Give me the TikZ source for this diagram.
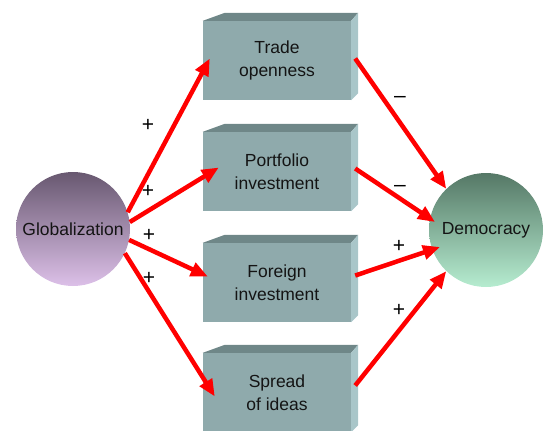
\documentclass[tikz,border=0pt]{standalone}
\usepackage{fontspec}
\setmainfont{Liberation Sans}
\usetikzlibrary{arrows.meta}
\definecolor{boxfront}{HTML}{8FAAAC}
\definecolor{boxtop}{HTML}{6F8788}
\definecolor{boxside}{HTML}{A9C6C9}
\definecolor{globtop}{HTML}{685870}
\definecolor{globbot}{HTML}{DCC0E8}
\definecolor{demotop}{HTML}{557866}
\definecolor{demobot}{HTML}{B6ECD0}
\definecolor{ink}{HTML}{141414}
\tikzset{
    factor/.style={rectangle, fill=boxfront, minimum width=148pt, minimum height=79pt,
        inner sep=0pt, align=center, text=ink, font=\fontsize{17.5}{22.5}\selectfont},
    pole/.style={circle, minimum size=114pt, inner sep=0pt, text=ink,
        font=\fontsize{17.5}{20}\selectfont},
    link/.style={red, line width=4.5pt, -{Triangle[length=17pt,width=14pt]}},
    sign/.style={text=black, font=\fontsize{21}{21}\selectfont},
}
\begin{document}
\begin{tikzpicture}[x=1pt, y=-1pt]
        \useasboundingbox (0,0) rectangle (544,431);

        \node[factor] (trade)     at (277,60.5)  {Trade\\openness};
        \node[factor] (portfolio) at (277,171.5) {Portfolio\\investment};
        \node[factor] (foreign)   at (277,282.5) {Foreign\\investment};
        \node[factor] (ideas)     at (277,392.5) {Spread\\of ideas};

        \foreach \n in {trade,portfolio,foreign,ideas}
        {
            \fill[boxtop]  (\n.north west) -- ++(22,-8) -- ([shift={(7,-8)}]\n.north east) -- (\n.north east) -- cycle;
            \fill[boxside] (\n.north east) -- ++(7,-8) -- ([shift={(7,-7)}]\n.south east) -- (\n.south east) -- cycle;
        }

        \node[pole, top color=globtop, bottom color=globbot] (glob) at (73,229) {Globalization};
        \node[pole, top color=demotop, bottom color=demobot] (demo) at (486,230) {Democracy};

        \draw[link] (glob.17)  -- ([shift={(7,-2)}]trade.west);
        \draw[link] (glob.7)   -- ([shift={(16,-4)}]portfolio.west);
        \draw[link] (glob.-11) -- ([shift={(5,-6)}]foreign.west);
        \draw[link] (glob.-25) -- ([shift={(12,4)}]ideas.west);

        \draw[link] ([shift={(4,-2)}]trade.east)     -- (demo.134);
        \draw[link] ([shift={(4,-3)}]portfolio.east) -- ([shift={(-51,-8)}]demo.center);
        \draw[link] ([shift={(4,-7)}]foreign.east)   -- ([shift={(-46,17)}]demo.center);
        \draw[link] ([shift={(4,-7)}]ideas.east)     -- (demo.226);

        \foreach \i/\x/\y/\s in {1/148/125/+, 2/148/191/+, 3/149/235/+, 4/149/278/+,
                                 5/400/99/--, 6/400/188/--, 7/399/246/+, 8/399/310/+}
        {
            \node[sign] (s\i) at (\x,\y) {\s};
        }
    \end{tikzpicture}
\end{document}
